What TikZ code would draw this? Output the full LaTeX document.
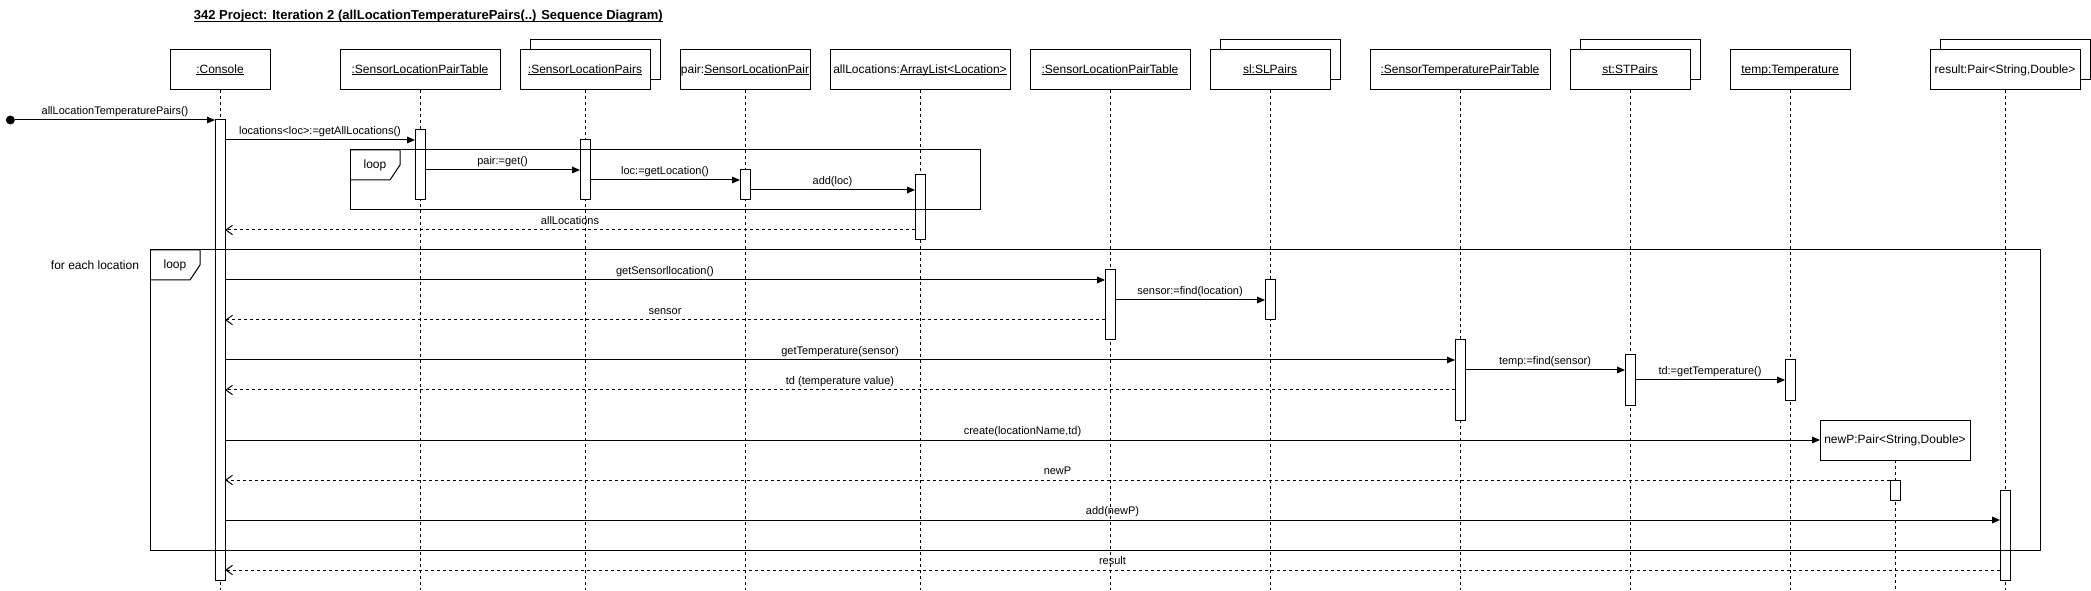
\documentclass[tikz,border=0pt]{standalone}
\usepackage{fontspec}
\setmainfont{Liberation Sans}
\usetikzlibrary{arrows.meta,calc}
\newcommand\myul[1]{\setbox0=\hbox{#1}\leavevmode\rlap{\rule[-1.3pt]{\wd0}{0.6pt}}\box0}
\tikzset{
  obj/.style={draw, fill=white, line width=0.75pt, minimum height=30pt, inner sep=0, outer sep=0,
    font=\fontsize{9}{11}\selectfont, text height=6.5pt, text depth=1.8pt},
  act/.style={draw, fill=white, line width=0.75pt, minimum width=7.5pt, inner sep=0, outer sep=0, anchor=north},
  life/.style={line width=0.75pt, dash pattern=on 2.25pt off 2.25pt},
  sync/.style={line width=0.75pt, -{Triangle[length=6pt,width=5pt]}},
  ret/.style={line width=0.75pt, dash pattern=on 2.25pt off 2.25pt, -{Straight Barb[length=5pt,width=7pt]}},
  msg/.style={midway, anchor=base, yshift=4.25pt, inner sep=0, font=\fontsize{8.25}{10}\selectfont},
  frame/.style={draw, line width=0.75pt, inner sep=0, outer sep=0, anchor=north west},
  lbl/.style={font=\fontsize{9}{11}\selectfont, inner sep=0},
}
\begin{document}
\begin{tikzpicture}[x=1pt, y=-1pt]
\useasboundingbox (0,0) rectangle (1568.25,443.25);

% title
\node[inner sep=0, font=\bfseries\fontsize{9.75}{12}\selectfont] (title) at (321.2,12.5)
  {\myul{342 Project: Iteration 2 (allLocationTemperaturePairs(..) Sequence Diagram)}};

% object boxes
\node[obj, minimum width=75pt] (console) at (165,52.5) {\myul{:Console}};
\node[obj, minimum width=120pt] (slpt1) at (315,52.5) {\myul{:SensorLocationPairTable}};
\node[obj, minimum width=97.5pt] (slpairsB) at (446.25,45) {};
\node[obj, minimum width=97.5pt] (slpairs) at (438.75,52.5) {\myul{:SensorLocationPairs}};
\node[obj, minimum width=97.5pt] (pair) at (558.75,52.5) {pair:\myul{SensorLocationPair}};
\node[obj, minimum width=135pt] (allloc) at (690,52.5) {allLocations:\myul{ArrayList<Location>}};
\node[obj, minimum width=120pt] (slpt2) at (832.5,52.5) {\myul{:SensorLocationPairTable}};
\node[obj, minimum width=90pt] (slB) at (960,45) {};
\node[obj, minimum width=90pt] (sl) at (952.5,52.5) {\myul{sl:SLPairs}};
\node[obj, minimum width=135pt] (stpt) at (1095,52.5) {\myul{:SensorTemperaturePairTable}};
\node[obj, minimum width=90pt] (stB) at (1230,45) {};
\node[obj, minimum width=90pt] (st) at (1222.5,52.5) {\myul{st:STPairs}};
\node[obj, minimum width=90pt] (temp) at (1342.5,52.5) {\myul{temp:Temperature}};
\node[obj, minimum width=112.5pt] (resB) at (1511.25,45) {};
\node[obj, minimum width=112.5pt] (res) at (1503.75,52.5) {result:Pair<String,Double>};
\node[obj, minimum width=112.5pt] (newP) at (1421.25,330) {newP:Pair<String,Double>};

% lifelines
\coordinate (bot) at (0,442.5);
\foreach \n in {console,slpt1,slpairs,pair,allloc,slpt2,sl,stpt,st,temp,res,newP}
  \draw[life] (\n.south) -- (\n.south |- bot);

% activations
\node[act, minimum height=345pt] (actC) at (165,90) {};
\node[act, minimum height=52.5pt] (actT1) at (315,97.5) {};
\node[act, minimum height=45pt] (actSP) at (438.75,105) {};
\node[act, minimum height=22.5pt] (actP) at (558.75,127.5) {};
\node[act, minimum height=48.75pt] (actA) at (690,131.25) {};
\node[act, minimum height=52.5pt] (actT2) at (832.5,202.5) {};
\node[act, minimum height=30pt] (actSL) at (952.5,210) {};
\node[act, minimum height=60pt] (actST) at (1095,255) {};
\node[act, minimum height=37.5pt] (actS) at (1222.5,266.25) {};
\node[act, minimum height=30pt] (actTe) at (1342.5,270) {};
\node[act, minimum height=15pt] (actN) at (1421.25,360) {};
\node[act, minimum height=67.5pt] (actR) at (1503.75,367.5) {};

% frames
\node[frame, minimum width=472.5pt, minimum height=45pt] (loop1) at (262.5,112.5) {};
\draw[line width=0.75pt] (loop1.north west) -- ++(37.5,0) -- ++(0,11.25) -- ++(-7.5,11.25) -- ++(-30,0);
\node[lbl] (loop1t) at (281.25,123.75) {loop};
\node[frame, minimum width=1417.5pt, minimum height=225pt] (loop2) at (112.5,187.5) {};
\draw[line width=0.75pt] (loop2.north west) -- ++(37.5,0) -- ++(0,11.25) -- ++(-7.5,11.25) -- ++(-30,0);
\node[lbl] (loop2t) at (131.25,198.75) {loop};
\node[lbl] (each) at (71.25,198.75) {for each location};

% messages
\node[circle, fill, inner sep=0, minimum size=6.75pt] (start) at (7.75,90) {};
\draw[sync] (start) -- (actC.north west) node[msg] {allLocationTemperaturePairs()};
\draw[sync] (actC.east |- 0,105) -- (actT1.west |- 0,105) node[msg] {locations<loc>:=getAllLocations()};
\draw[sync] (actT1.east |- 0,127.5) -- (actSP.west |- 0,127.5) node[msg] {pair:=get()};
\draw[sync] (actSP.east |- 0,135) -- (actP.west |- 0,135) node[msg] {loc:=getLocation()};
\draw[sync] (actP.east |- 0,142.5) -- (actA.west |- 0,142.5) node[msg] {add(loc)};
\draw[ret] (actA.west |- 0,172.5) -- (actC.east |- 0,172.5) node[msg] {allLocations};
\draw[sync] (actC.east |- 0,210) -- (actT2.west |- 0,210) node[msg] {getSensorllocation()};
\draw[sync] (actT2.east |- 0,225) -- (actSL.west |- 0,225) node[msg] {sensor:=find(location)};
\draw[ret] (actT2.west |- 0,240) -- (actC.east |- 0,240) node[msg] {sensor};
\draw[sync] (actC.east |- 0,270) -- (actST.west |- 0,270) node[msg] {getTemperature(sensor)};
\draw[sync] (actST.east |- 0,277.5) -- (actS.west |- 0,277.5) node[msg] {temp:=find(sensor)};
\draw[sync] (actS.east |- 0,285) -- (actTe.west |- 0,285) node[msg] {td:=getTemperature()};
\draw[ret] (actST.west |- 0,292.5) -- (actC.east |- 0,292.5) node[msg] {td (temperature value)};
\draw[sync] (actC.east |- newP) -- (newP.west) node[msg] {create(locationName,td)};
\draw[ret] (actN.north west) -- (actC.east |- actN.north) node[msg] {newP};
\draw[sync] (actC.east |- 0,390) -- (actR.west |- 0,390) node[msg] {add(newP)};
\draw[ret] (actR.west |- 0,427.5) -- (actC.east |- 0,427.5) node[msg] {result};
\end{tikzpicture}
\end{document}
